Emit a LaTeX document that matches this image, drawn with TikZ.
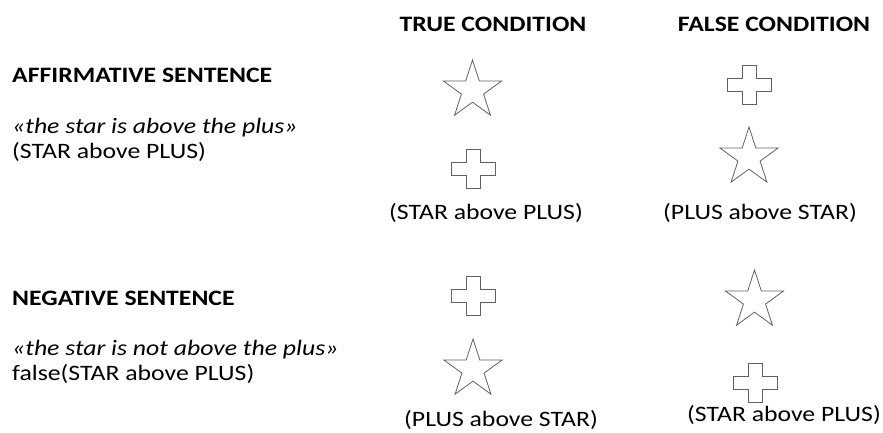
\documentclass[tikz,border=0pt]{standalone}
\usepackage{fontspec}
\setmainfont{Carlito}[FakeStretch=1.17]
\usetikzlibrary{shapes.geometric}
\tikzset{
  shp/.style={draw=black!62, line width=0.8pt},
  starfig/.style={shp, star, star points=5, star point ratio=2.618, minimum size=61pt, inner sep=0pt},
  pics/plusfig/.style={code={
    \draw[shp] (-7,-19.5) -- (7,-19.5) -- (7,-6.5) -- (22,-6.5) -- (22,6.5) -- (7,6.5)
      -- (7,19.5) -- (-7,19.5) -- (-7,6.5) -- (-22,6.5) -- (-22,-6.5) -- (-7,-6.5) -- cycle;
  }},
  head/.style={font=\bfseries\fontsize{22}{24}\selectfont, inner sep=0pt},
  txt/.style={font=\fontsize{22}{24}\selectfont, inner sep=0pt},
  itxt/.style={font=\itshape\fontsize{22}{24}\selectfont, inner sep=0pt},
}
\begin{document}
\begin{tikzpicture}[x=1pt,y=-1pt]
\useasboundingbox (0,0) rectangle (883,433);
% column headers
\node[head, anchor=base] (truehd) at (493,32) {TRUE CONDITION};
\node[head, anchor=base] (falsehd) at (774,32) {FALSE CONDITION};
% affirmative block
\node[head, anchor=base west] (affhd) at (12,83) {AFFIRMATIVE SENTENCE};
\node[itxt, anchor=base west] (affit) at (12,133) {«the star is above the plus»};
\node[txt, anchor=base west] (affpar) at (12,158) {(STAR above PLUS)};
% negative block
\node[head, anchor=base west] (neghd) at (12,305) {NEGATIVE SENTENCE};
\node[itxt, anchor=base west] (negit) at (12,355) {«the star is not above the plus»};
\node[txt, anchor=base west] (negpar) at (12,380) {false(STAR above PLUS)};
% affirmative true
\node[starfig] (s1) at (472.5,90.5) {};
\pic (p1) at (473.5,168.5) {plusfig};
\node[txt, anchor=base] (l1) at (486,219) {(STAR above PLUS)};
% affirmative false
\pic (p2) at (749,85) {plusfig};
\node[starfig] (s2) at (749,157.5) {};
\node[txt, anchor=base] (l2) at (760,219) {(PLUS above STAR)};
% negative true
\pic (p3) at (473.5,296) {plusfig};
\node[starfig] (s3) at (473,369.5) {};
\node[txt, anchor=base] (l3) at (501,426) {(PLUS above STAR)};
% negative false
\node[starfig] (s4) at (754.5,300.5) {};
\pic (p4) at (755.5,383) {plusfig};
\node[txt, anchor=base] (l4) at (784,421) {(STAR above PLUS)};
\end{tikzpicture}
\end{document}
